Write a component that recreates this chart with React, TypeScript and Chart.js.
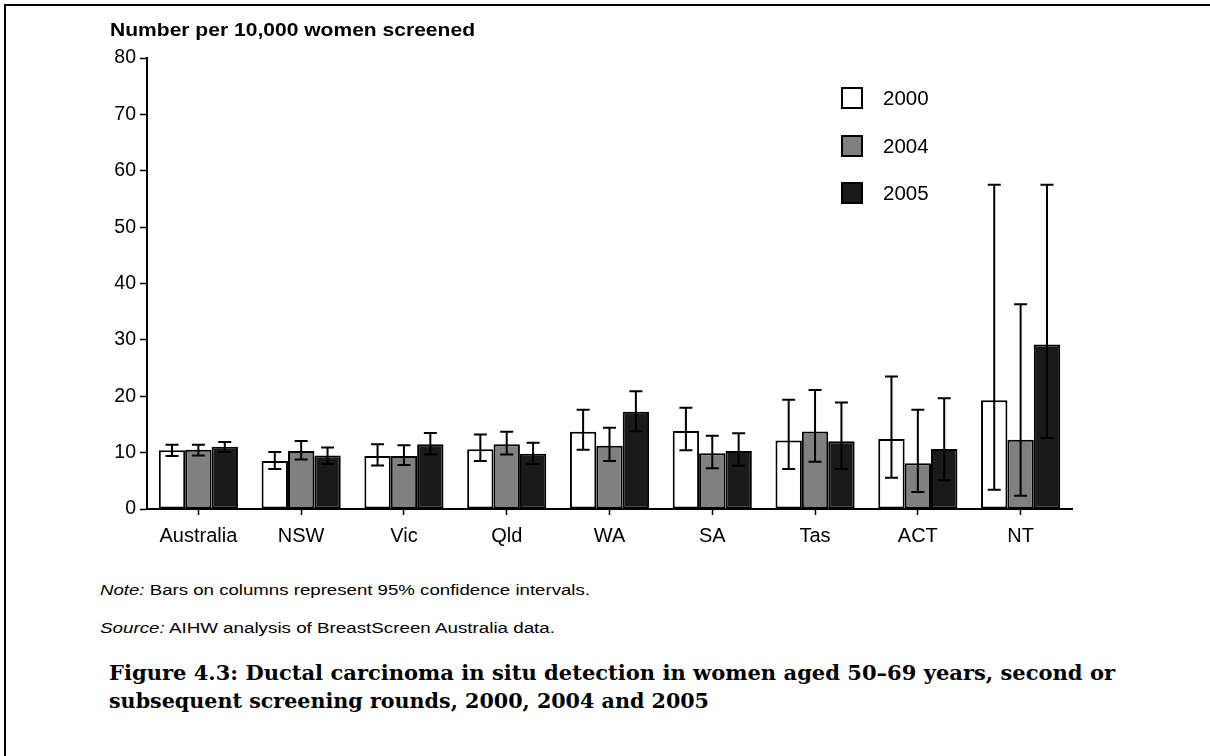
import React, { useEffect, useLayoutEffect, useRef } from "react";
import { Chart, registerables } from "chart.js";

Chart.register(...registerables);

const categories = ["Australia", "NSW", "Vic", "Qld", "WA", "SA", "Tas", "ACT", "NT"];
const seriesLabels = ["2000", "2004", "2005"];

const v2000 = [10.4, 8.5, 9.4, 10.6, 13.7, 13.85, 12.15, 12.4, 19.3];
const lo2000 = [9.4, 7.1, 7.7, 8.5, 10.5, 10.4, 7.1, 5.55, 3.4];
const hi2000 = [11.4, 10.1, 11.5, 13.2, 17.6, 17.95, 19.4, 23.5, 57.5];

const v2004 = [10.5, 10.3, 9.4, 11.5, 11.2, 9.9, 13.75, 8.1, 12.3];
const lo2004 = [9.5, 8.8, 7.8, 9.65, 8.5, 7.25, 8.4, 3.0, 2.35];
const hi2004 = [11.4, 12.05, 11.3, 13.7, 14.4, 13.0, 21.1, 17.6, 36.3];

const v2005 = [11.05, 9.5, 11.5, 9.8, 17.25, 10.3, 12.0, 10.65, 29.2];
const lo2005 = [10.1, 8.0, 9.65, 8.0, 13.8, 7.65, 7.1, 5.1, 12.6];
const hi2005 = [11.9, 10.9, 13.5, 11.75, 20.9, 13.45, 18.9, 19.65, 57.5];

const yTicks = [0, 10, 20, 30, 40, 50, 60, 70, 80];

const values = [v2000, v2004, v2005];
const lows = [lo2000, lo2004, lo2005];
const highs = [hi2000, hi2004, hi2005];
const fills = ["#ffffff", "#808080", "#1a1a1a"];

const FONT = "'Liberation Sans', Arial, sans-serif";

const errorBarPlugin = {
  id: "errorBars",
  afterDatasetsDraw(chart: any) {
    const ctx = chart.ctx;
    const y = chart.scales.y;
    ctx.save();
    ctx.strokeStyle = "#000";
    ctx.lineWidth = 2;
    chart.data.datasets.forEach((ds: any, i: number) => {
      const meta = chart.getDatasetMeta(i);
      meta.data.forEach((el: any, j: number) => {
        const x = el.x;
        const yh = y.getPixelForValue(highs[i][j]);
        const yl = y.getPixelForValue(lows[i][j]);
        const cap = 6.5;
        ctx.beginPath();
        ctx.moveTo(x, yh);
        ctx.lineTo(x, yl);
        ctx.moveTo(x - cap, yh);
        ctx.lineTo(x + cap, yh);
        ctx.moveTo(x - cap, yl);
        ctx.lineTo(x + cap, yl);
        ctx.stroke();
      });
    });
    ctx.restore();
  },
};

const legendPlugin = {
  id: "customLegend",
  afterDraw(chart: any) {
    const ctx = chart.ctx;
    ctx.save();
    const x0 = 842;
    const ys = [98, 146, 193];
    chart.data.datasets.forEach((ds: any, i: number) => {
      const cy = ys[i];
      ctx.fillStyle = ds.backgroundColor;
      ctx.fillRect(x0, cy - 10, 20, 20);
      ctx.strokeStyle = "#000";
      ctx.lineWidth = 2;
      ctx.strokeRect(x0, cy - 10, 20, 20);
      ctx.fillStyle = "#000";
      ctx.font = `20.5px ${FONT}`;
      ctx.textBaseline = "middle";
      ctx.textAlign = "left";
      ctx.fillText(ds.label, 883, cy + 1);
    });
    ctx.restore();
  },
};

function FitText({ text, width, style }: { text: React.ReactNode; width: number; style: React.CSSProperties }) {
  const ref = useRef<HTMLSpanElement>(null);
  useLayoutEffect(() => {
    const el = ref.current;
    if (!el) return;
    el.style.transform = "none";
    const w = el.getBoundingClientRect().width;
    if (w > 0) el.style.transform = `scaleX(${width / w})`;
  }, [width]);
  return (
    <span
      ref={ref}
      style={{ position: "absolute", whiteSpace: "nowrap", transformOrigin: "0 0", display: "inline-block", ...style }}
    >
      {text}
    </span>
  );
}

export default function App() {
  const canvasRef = useRef<HTMLCanvasElement>(null);

  useEffect(() => {
    const canvas = canvasRef.current;
    if (!canvas) return;
    const chart = new Chart(canvas, {
      type: "bar",
      data: {
        labels: categories,
        datasets: seriesLabels.map((label, i) => ({
          label,
          data: values[i],
          backgroundColor: fills[i],
          borderColor: "#000",
          borderWidth: 2,
          borderSkipped: false,
          categoryPercentage: 0.77,
          barPercentage: 1.0,
        })),
      },
      options: {
        responsive: false,
        animation: false,
        devicePixelRatio: 1,
        layout: { padding: { left: 50, top: 58, right: 138, bottom: 9 } },
        plugins: {
          legend: { display: false },
          tooltip: { enabled: false },
          title: { display: false },
        },
        scales: {
          x: {
            grid: {
              display: true,
              drawOnChartArea: false,
              drawTicks: true,
              tickLength: 6,
              tickWidth: 1.5,
              tickColor: "#000",
              offset: false,
            },
            border: { display: true, color: "#000", width: 2 },
            ticks: {
              color: "#000",
              font: { family: FONT, size: 20 },
              padding: 9,
              maxRotation: 0,
              autoSkip: false,
            },
            afterFit(scale: any) {
              scale.height = 42;
            },
          },
          y: {
            min: 0,
            max: 80,
            afterBuildTicks(scale: any) {
              scale.ticks = yTicks.map((v) => ({ value: v }));
            },
            grid: {
              display: true,
              drawOnChartArea: false,
              drawTicks: true,
              tickLength: 7,
              tickWidth: 1.5,
              tickColor: "#000",
            },
            border: { display: true, color: "#000", width: 2 },
            ticks: {
              color: "#000",
              font: { family: FONT, size: 19.5 },
              padding: 4,
            },
            afterFit(scale: any) {
              scale.width = 97;
            },
          },
        },
      },
      plugins: [errorBarPlugin, legendPlugin],
    });
    return () => chart.destroy();
  }, []);

  return (
    <div
      style={{
        position: "absolute",
        left: 0,
        top: 0,
        width: 1210,
        height: 756,
        overflow: "hidden",
        background: "#fff",
        fontFamily: FONT,
        color: "#000",
      }}
    >
      <div
        style={{
          position: "absolute",
          left: 4,
          top: 4,
          width: 1400,
          height: 900,
          borderTop: "2px solid #000",
          borderLeft: "2px solid #000",
        }}
      />
      <canvas ref={canvasRef} width={1210} height={560} style={{ position: "absolute", left: 0, top: 0, width: 1210, height: 560 }} />
      <FitText
        text="Number per 10,000 women screened"
        width={365}
        style={{ left: 110, top: 19, fontSize: 19, lineHeight: "22px", fontWeight: "bold" }}
      />
      <FitText
        text={
          <>
            <i>Note:</i> Bars on columns represent 95% confidence intervals.
          </>
        }
        width={490}
        style={{ left: 100, top: 580, fontSize: 15.5, lineHeight: "20px" }}
      />
      <FitText
        text={
          <>
            <i>Source:</i> AIHW analysis of BreastScreen Australia data.
          </>
        }
        width={455}
        style={{ left: 100, top: 618, fontSize: 15.5, lineHeight: "20px" }}
      />
      <FitText
        text="Figure 4.3: Ductal carcinoma in situ detection in women aged 50–69 years, second or"
        width={1006}
        style={{ left: 109, top: 659, fontSize: 20, lineHeight: "28px", fontWeight: "bold", fontFamily: "'DejaVu Serif', serif" }}
      />
      <FitText
        text="subsequent screening rounds, 2000, 2004 and 2005"
        width={600}
        style={{ left: 109, top: 687, fontSize: 20, lineHeight: "28px", fontWeight: "bold", fontFamily: "'DejaVu Serif', serif" }}
      />
    </div>
  );
}
